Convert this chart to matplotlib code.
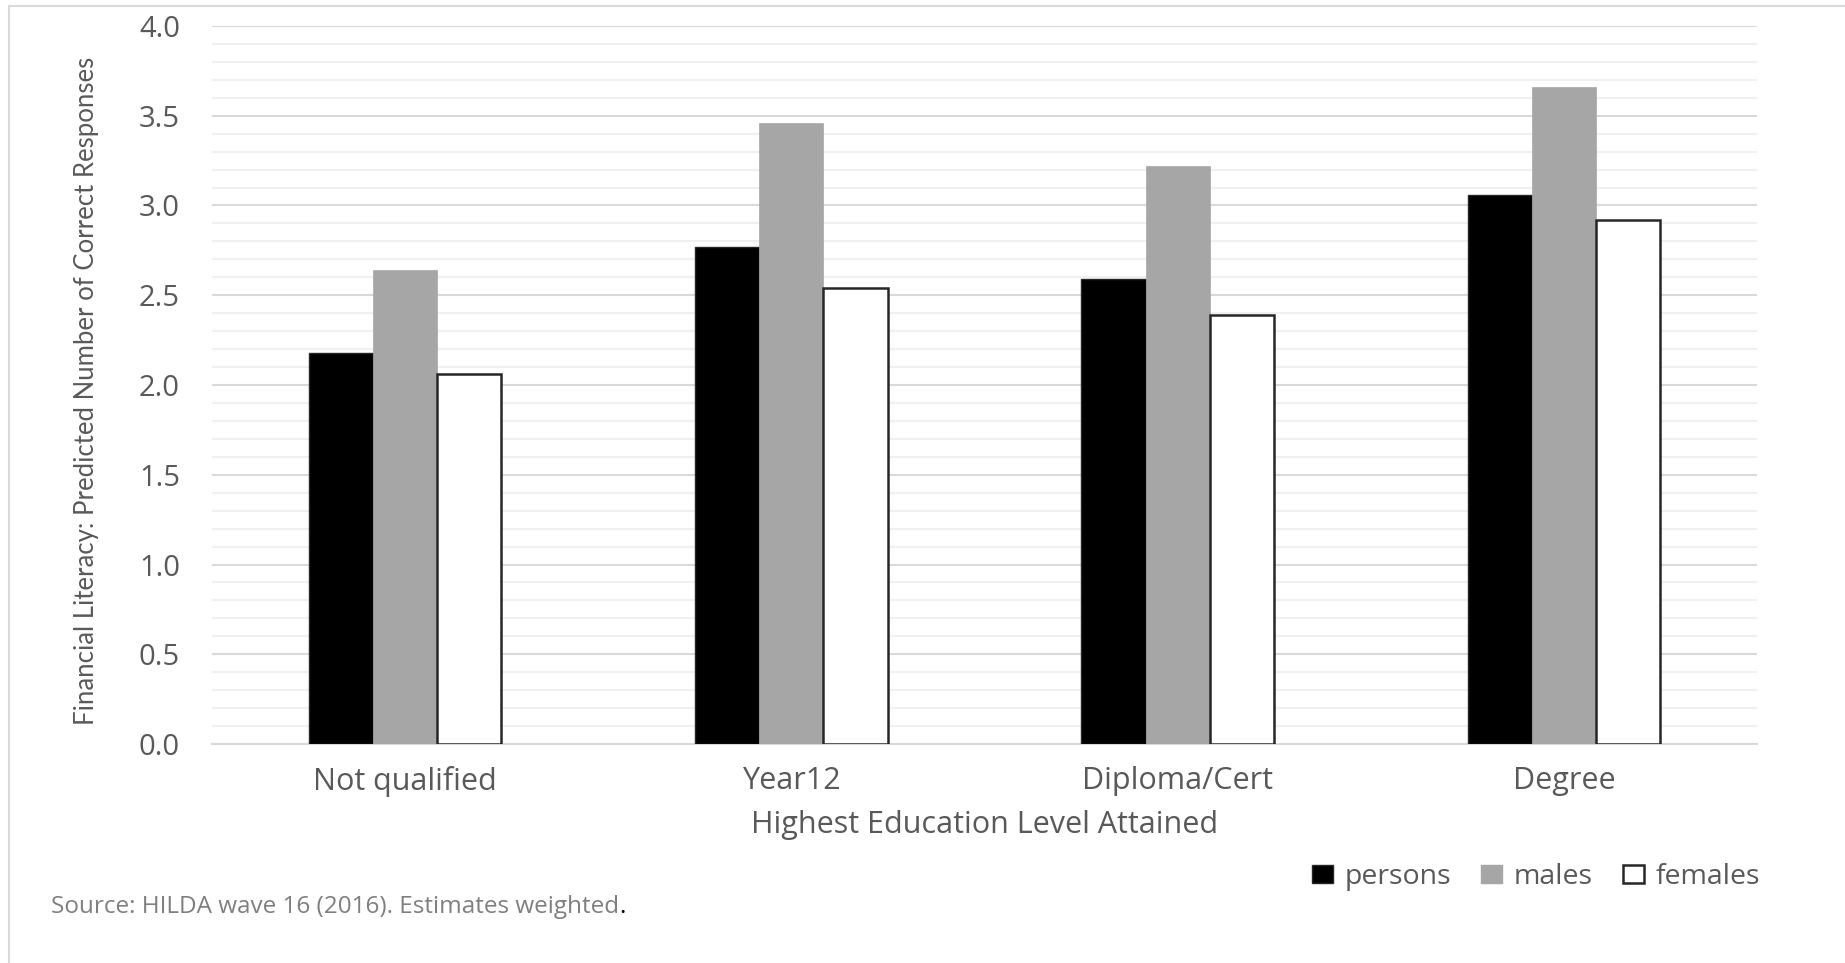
import matplotlib.pyplot as plt
from matplotlib.patches import Patch
from matplotlib.lines import Line2D
import numpy as np

# data
categories = ['Not qualified', 'Year12', 'Diploma/Cert', 'Degree']
persons = [2.18, 2.77, 2.59, 3.06]
males = [2.64, 3.46, 3.22, 3.66]
females = [2.06, 2.54, 2.39, 2.92]
series_names = ['persons', 'males', 'females']

W, H = 1845, 963
plt.rcParams['font.family'] = ['Open Sans', 'DejaVu Sans']
text_col = '#595959'

fig = plt.figure(figsize=(W / 100, H / 100), dpi=100)
ax = fig.add_axes([212 / W, 1 - 744 / H, (1757 - 212) / W, (744 - 26) / H])

x = np.arange(len(categories))
bw = 0.166
ax.bar(x - bw, persons, bw, color='black', edgecolor='#262626', linewidth=1, zorder=3)
ax.bar(x, males, bw, color='#a6a6a6', edgecolor='#a6a6a6', linewidth=0.5, zorder=3)
ax.bar(x + bw, females, bw, color='white', edgecolor='#262626', linewidth=1.8, zorder=3)

ax.set_xlim(-0.5, 3.5)
ax.set_ylim(0, 4)
ax.set_yticks(np.arange(0, 4.01, 0.5))
ax.set_yticks(np.arange(0, 4.01, 0.1), minor=True)
ax.set_yticklabels([f'{v:.1f}' for v in np.arange(0, 4.01, 0.5)])
ax.set_xticks(x)
ax.set_xticklabels(categories)

ax.grid(axis='y', which='major', color='#d9d9d9', linewidth=1.5, zorder=0)
ax.grid(axis='y', which='minor', color='#f0f0f0', linewidth=1.5, zorder=0)
for s in ['top', 'right', 'left']:
    ax.spines[s].set_visible(False)
ax.spines['bottom'].set_color('#d9d9d9')
ax.spines['bottom'].set_linewidth(1.5)
ax.tick_params(axis='y', which='both', length=0, labelsize=21, labelcolor=text_col, pad=23)
ax.tick_params(axis='x', which='both', length=0, labelsize=22, labelcolor=text_col, pad=16)

ax.set_xlabel('Highest Education Level Attained', fontsize=22, color=text_col, va='center')
ax.xaxis.set_label_coords(0.5, -81 / 718)
ax.set_ylabel('Financial Literacy: Predicted Number of Correct Responses', fontsize=18.5,
              color=text_col, va='center', family=['Lato', 'DejaVu Sans'])
ax.yaxis.set_label_coords(-125 / 1545, (744 - 391) / 718)

handles = [Patch(facecolor='black', edgecolor='#262626'),
           Patch(facecolor='#a6a6a6', edgecolor='#a6a6a6'),
           Patch(facecolor='white', edgecolor='#262626', linewidth=1.8)]
fig.legend(handles, series_names, loc='center right', bbox_to_anchor=(1760 / W, 1 - 877 / H),
           ncol=3, frameon=False, fontsize=20.5, labelcolor=text_col,
           handlelength=0.75, handleheight=0.6, handletextpad=0.4, columnspacing=1.05,
           borderpad=0, borderaxespad=0)

src = fig.text(51 / W, 1 - 907 / H, 'Source: HILDA wave 16 (2016). Estimates weighted',
               fontsize=17.5, color='#7f7f7f', va='center', ha='left')
fig.canvas.draw()
bb = src.get_window_extent()
fig.text(bb.x1 / W, 1 - 907 / H, '.', fontsize=17.5, color='black', va='center', ha='left')

# outer chart frame (left and top edges only are visible)
fig.add_artist(Line2D([9 / W, 9 / W, 1], [0, 1 - 6 / H, 1 - 6 / H],
                      transform=fig.transFigure, color='#d9d9d9', linewidth=1.5))

fig.savefig('out.png', dpi=100)
